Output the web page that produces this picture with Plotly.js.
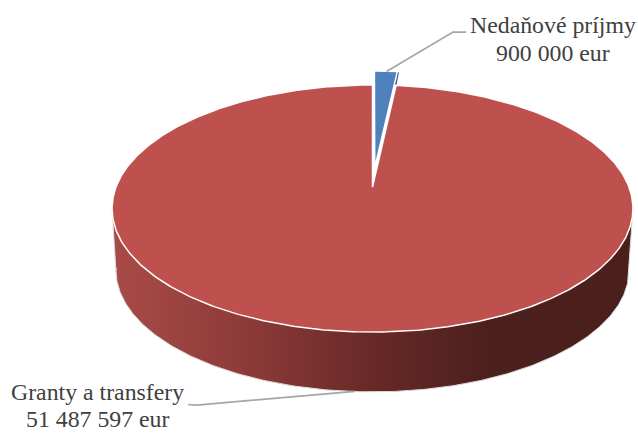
<!DOCTYPE html>
<html>
<head>
<meta charset="utf-8">
<script src="https://cdn.plot.ly/plotly-3.0.1.min.js"></script>
<style>html,body{margin:0;padding:0;background:#fff}#chart{width:638px;height:433px}</style>
</head>
<body>
<div id="chart"></div>
<script>
const categories = ["Nedaňové príjmy", "Granty a transfery"];
const values = [900000, 51487597];
const unit = "eur";
const sliceColors = ["#4f81bd", "#be504d"];

// projection of the tilted disc onto the page (axis units = page pixels)
const view = {cx: 372.5, cy: 187, A: 256.5, B: 119.8, k: 0.174};
const depth = 62, bottomScale = 0.985, pull = [0.165, 0];

function project(u, v, dy, s) {
  const w = 1 + view.k * v;
  return [view.cx + s * view.A * u / w, view.cy + dy - s * view.B * v / w];
}
function rim(t0, t1, ox, oy, dy, s) {
  const pts = [], n = Math.max(2, Math.ceil(Math.abs(t1 - t0) / 0.01));
  for (let i = 0; i <= n; i++) {
    const t = t0 + (t1 - t0) * i / n;
    pts.push(project(ox + Math.sin(t), oy + Math.cos(t), dy, s));
  }
  return pts;
}
function poly(pts, extra) {
  return Object.assign({
    type: "scatter", mode: "lines", hoverinfo: "skip", showlegend: false, fill: "toself",
    x: pts.map(p => p[0]), y: pts.map(p => p[1])
  }, extra);
}

const total = values.reduce((a, b) => a + b, 0);
const traces = [];

// side wall of the large slice
function widest(dy, s, sign) {
  let best = null;
  rim(0, 2 * Math.PI, 0, 0, dy, s).forEach(p => {
    if (!best || sign * p[0] > sign * best[0]) best = p;
  });
  return best;
}
const bottomFront = rim(Math.PI * 0.55, Math.PI * 1.45, 0, 0, depth, bottomScale);
const wallPts = [widest(0, 1, 1), widest(depth, bottomScale, 1)]
  .concat(bottomFront)
  .concat([widest(depth, bottomScale, -1), widest(0, 1, -1)]);
wallPts.push(wallPts[0]);
traces.push(poly(wallPts, {
  line: {color: "#dcdcdc", width: 1},
  fillgradient: {
    type: "horizontal",
    colorscale: [[0, "#a94b48"], [0.25, "#8e3b39"], [0.5, "#682927"], [0.72, "#4c201d"], [1, "#4a1f1c"]]
  }
}));

// top surfaces, clockwise from twelve o'clock
let start = 0;
const tops = [];
values.forEach((val, i) => {
  const sweep = 2 * Math.PI * val / total;
  const mid = start + sweep / 2;
  const ox = pull[i] * Math.sin(mid), oy = pull[i] * Math.cos(mid);
  const arc = rim(start, start + sweep, ox, oy, 0, 1);
  const apex = project(ox, oy, 0, 1);
  if (pull[i] > 0) {
    const edge = arc[arc.length - 1];
    tops.unshift(poly([edge, [edge[0] + 1.5, edge[1] + 1], [edge[0] - 1, edge[1] + 14], [edge[0] - 3, edge[1] + 12], edge],
      {line: {width: 0}, fillcolor: "#2f5583"}));
  }
  tops.push(poly([apex].concat(arc).concat([apex]), {
    name: categories[i],
    line: {color: "#ffffff", width: 1.5},
    fillcolor: sliceColors[i]
  }));
  start += sweep;
});
// large slice first so the pulled slice sits on top
traces.push(...tops.slice(0, 1), tops[2], tops[1]);

const fmt = v => String(v).replace(/\B(?=(\d{3})+$)/g, " ");
const labelFont = {family: "Liberation Serif, serif", size: 23.8, color: "#404040"};
// centres of the two text lines of each label
const labelX = [553, 97];
const labelLineY = [[25, 53], [391.5, 419]];
const annotations = [];
categories.forEach((c, i) => {
  [c, fmt(values[i]) + " " + unit].forEach((line, j) => annotations.push({
    x: labelX[i], y: labelLineY[i][j], xref: "x", yref: "y",
    text: line, showarrow: false, xanchor: "center", yanchor: "middle", font: labelFont
  }));
});
const leader = {color: "#a6a6a6", width: 1.75};
const shapes = [
  {type: "path", xref: "x", yref: "y", path: "M386.5,71.5 L453,32 L466,32", line: leader},
  {type: "path", xref: "x", yref: "y", path: "M188,404.5 L197,405 L355,391.3", line: leader}
];

Plotly.newPlot("chart", traces, {
  width: 638, height: 433,
  margin: {l: 0, r: 0, t: 0, b: 0},
  paper_bgcolor: "#ffffff", plot_bgcolor: "#ffffff",
  showlegend: false,
  xaxis: {range: [0, 638], visible: false, fixedrange: true},
  yaxis: {range: [433, 0], visible: false, fixedrange: true},
  annotations: annotations,
  shapes: shapes
}, {displayModeBar: false, staticPlot: true});
</script>
</body>
</html>
